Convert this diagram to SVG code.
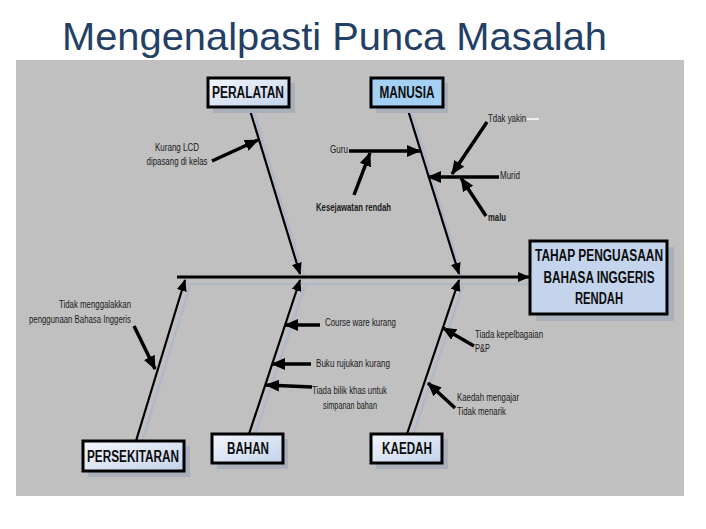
<svg xmlns="http://www.w3.org/2000/svg" width="706" height="529" viewBox="0 0 706 529">
<defs>
<style>
.lbl{font-family:"Liberation Sans Narrow","Liberation Sans",Arial,sans-serif;font-size:11.5px;fill:#1a1a1a}
.b{font-weight:bold}
.hd{font-family:"Liberation Sans Narrow","Liberation Sans",Arial,sans-serif;font-size:16px;font-weight:bold;fill:#0d0d0d}
.box{stroke:#000;stroke-width:3}
.shadow{fill:#a9afbb}
.bone{stroke:#000;stroke-width:2.2;fill:none}
.bsh{stroke:#b0b8c8;stroke-width:2.5;fill:none}
.sub{stroke:#000;stroke-width:3.5;fill:none}
</style>
<linearGradient id="g1" x1="0" y1="0" x2="1" y2="1">
<stop offset="0" stop-color="#f4f7fc"/>
<stop offset="1" stop-color="#c3d2ea"/>
</linearGradient>
<marker id="ah" markerUnits="userSpaceOnUse" markerWidth="12" markerHeight="10" viewBox="0 0 12 10" refX="11" refY="5" orient="auto">
<path d="M0,0 L12,5 L0,10 z" fill="#000"/>
</marker>
<marker id="as" markerUnits="userSpaceOnUse" markerWidth="14" markerHeight="12" viewBox="0 0 14 12" refX="13" refY="6" orient="auto">
<path d="M0,0 L14,6 L0,12 z" fill="#000"/>
</marker>
</defs>
<rect width="706" height="529" fill="#ffffff"/>
<text x="62" y="50" font-family="Liberation Sans,Arial,sans-serif" font-size="39" fill="#243f66" textLength="545" lengthAdjust="spacingAndGlyphs">Mengenalpasti Punca Masalah</text>
<rect x="16" y="60" width="668" height="436" fill="#c0c0c0"/>

<g id="shadows">
<line class="bsh" x1="187" y1="284" x2="528" y2="284"/>
<line class="bsh" x1="141" y1="445" x2="190" y2="286"/>
<line class="bsh" x1="254" y1="438" x2="305" y2="286"/>
<line class="bsh" x1="412" y1="438" x2="463" y2="286"/>
<line class="bsh" x1="254" y1="112" x2="305" y2="280"/>
<line class="bsh" x1="412" y1="112" x2="463" y2="280"/>
</g>

<g id="connectors">
<line x1="177" y1="277" x2="529" y2="277" stroke="#000" stroke-width="3" marker-end="url(#ah)"/>
<line class="bone" x1="249" y1="107" x2="300" y2="274" marker-end="url(#ah)"/>
<line class="bone" x1="407" y1="107" x2="459" y2="274" marker-end="url(#ah)"/>
<line class="bone" x1="136" y1="441" x2="185" y2="280" marker-end="url(#ah)"/>
<line class="bone" x1="249" y1="434" x2="300" y2="280" marker-end="url(#ah)"/>
<line class="bone" x1="407" y1="434" x2="459" y2="280" marker-end="url(#ah)"/>
<line class="sub" x1="212" y1="161" x2="258" y2="140" marker-end="url(#as)"/>
<line class="sub" x1="349" y1="151" x2="420" y2="151" marker-end="url(#as)"/>
<line class="sub" x1="354" y1="195" x2="370" y2="153" marker-end="url(#as)"/>
<line class="sub" x1="487" y1="122" x2="452" y2="174" marker-end="url(#as)"/>
<line class="sub" x1="499" y1="177" x2="428" y2="177" marker-end="url(#as)"/>
<line class="sub" x1="486" y1="216" x2="461" y2="178" marker-end="url(#as)"/>
<line class="sub" x1="320" y1="325" x2="285" y2="325" marker-end="url(#as)"/>
<line class="sub" x1="311" y1="364" x2="272" y2="364" marker-end="url(#as)"/>
<line class="sub" x1="312" y1="387" x2="266" y2="385" marker-end="url(#as)"/>
<line class="sub" x1="474" y1="346" x2="443" y2="328" marker-end="url(#as)"/>
<line class="sub" x1="455" y1="408" x2="428" y2="383" marker-end="url(#as)"/>
<line class="sub" x1="134" y1="326" x2="155" y2="369" marker-end="url(#as)"/>
<line x1="527" y1="119" x2="539" y2="119" stroke="#ffffff" stroke-width="1.5"/>
</g>

<g id="labels">
<text class="lbl" x="177" y="151" text-anchor="middle" textLength="44" lengthAdjust="spacingAndGlyphs">Kurang LCD</text>
<text class="lbl" x="177" y="165" text-anchor="middle" textLength="61" lengthAdjust="spacingAndGlyphs">dipasang di kelas</text>
<text class="lbl" x="330" y="153" textLength="18" lengthAdjust="spacingAndGlyphs">Guru</text>
<text class="lbl b" x="316" y="211" textLength="75" lengthAdjust="spacingAndGlyphs">Kesejawatan rendah</text>
<text class="lbl" x="488" y="122" textLength="38" lengthAdjust="spacingAndGlyphs">Tdak yakin</text>
<text class="lbl" x="500" y="179" textLength="20" lengthAdjust="spacingAndGlyphs">Murid</text>
<text class="lbl b" x="488" y="221" textLength="18" lengthAdjust="spacingAndGlyphs">malu</text>
<text class="lbl" x="325" y="326" textLength="71" lengthAdjust="spacingAndGlyphs">Course ware kurang</text>
<text class="lbl" x="316" y="367" textLength="74" lengthAdjust="spacingAndGlyphs">Buku rujukan  kurang</text>
<text class="lbl" x="312" y="394" textLength="75" lengthAdjust="spacingAndGlyphs">Tiada bilik khas untuk</text>
<text class="lbl" x="323" y="409" textLength="54" lengthAdjust="spacingAndGlyphs">simpanan bahan</text>
<text class="lbl" x="475" y="338" textLength="68" lengthAdjust="spacingAndGlyphs">Tiada kepelbagaian</text>
<text class="lbl" x="475" y="352" textLength="15" lengthAdjust="spacingAndGlyphs">P&amp;P</text>
<text class="lbl" x="457" y="401" textLength="62" lengthAdjust="spacingAndGlyphs">Kaedah mengajar</text>
<text class="lbl" x="457" y="415" textLength="49" lengthAdjust="spacingAndGlyphs">Tidak menarik</text>
<text class="lbl" x="131" y="308" text-anchor="end" textLength="72" lengthAdjust="spacingAndGlyphs">Tidak menggalakkan</text>
<text class="lbl" x="131" y="323" text-anchor="end" textLength="102" lengthAdjust="spacingAndGlyphs">penggunaan Bahasa Inggeris</text>
</g>

<g id="node-peralatan">
<rect class="shadow" x="213" y="83" width="82" height="30"/>
<rect class="box" x="208" y="78" width="81" height="29" fill="url(#g1)"/>
<text class="hd" x="248" y="98" text-anchor="middle" textLength="72" lengthAdjust="spacingAndGlyphs">PERALATAN</text>
</g>
<g id="node-manusia">
<rect class="shadow" x="376" y="83" width="72" height="30"/>
<rect class="box" x="371" y="78" width="72" height="29" fill="#a4d0f4"/>
<text class="hd" x="407" y="98" text-anchor="middle" textLength="55" lengthAdjust="spacingAndGlyphs">MANUSIA</text>
</g>
<g id="node-persekitaran">
<rect class="shadow" x="88" y="446" width="102" height="31"/>
<rect class="box" x="83" y="441" width="101" height="30" fill="url(#g1)"/>
<text class="hd" x="133" y="462" text-anchor="middle" textLength="92" lengthAdjust="spacingAndGlyphs">PERSEKITARAN</text>
</g>
<g id="node-bahan">
<rect class="shadow" x="217" y="439" width="71" height="30"/>
<rect class="box" x="212" y="434" width="71" height="29" fill="url(#g1)"/>
<text class="hd" x="248" y="454" text-anchor="middle" textLength="42" lengthAdjust="spacingAndGlyphs">BAHAN</text>
</g>
<g id="node-kaedah">
<rect class="shadow" x="376" y="439" width="72" height="30"/>
<rect class="box" x="371" y="434" width="71" height="29" fill="url(#g1)"/>
<text class="hd" x="407" y="454" text-anchor="middle" textLength="50" lengthAdjust="spacingAndGlyphs">KAEDAH</text>
</g>
<g id="node-effect">
<rect class="shadow" x="536" y="247" width="138" height="74"/>
<rect class="box" x="530" y="241" width="137" height="73" fill="#c4d4ec"/>
<text class="hd" x="599" y="261" text-anchor="middle" textLength="128" lengthAdjust="spacingAndGlyphs">TAHAP PENGUASAAN</text>
<text class="hd" x="599" y="283" text-anchor="middle" textLength="111" lengthAdjust="spacingAndGlyphs">BAHASA INGGERIS</text>
<text class="hd" x="599" y="304" text-anchor="middle" textLength="48" lengthAdjust="spacingAndGlyphs">RENDAH</text>
</g>
</svg>
